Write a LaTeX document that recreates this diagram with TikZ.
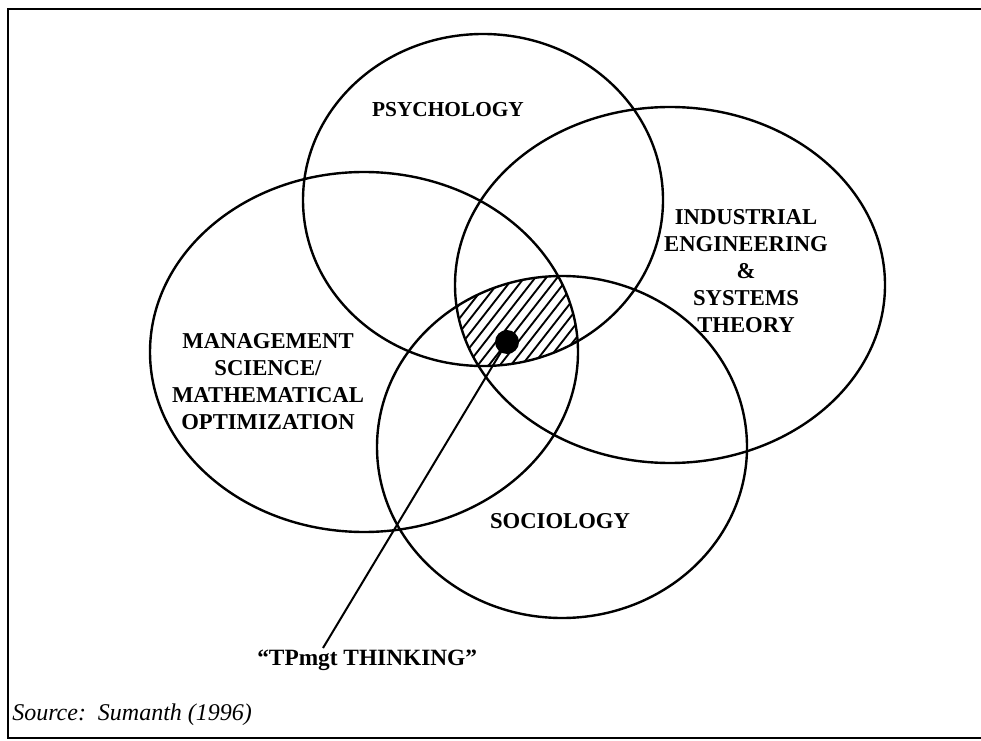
\documentclass[tikz,border=0pt]{standalone}
\usepackage{fontspec}
\setmainfont{Liberation Serif}
\begin{document}
\begin{tikzpicture}[x=0.75pt,y=-0.75pt,
  ring/.style={line width=1.8pt},
  lab/.style={font=\fontsize{17}{20.25}\selectfont\bfseries, align=center, inner sep=0pt},
  hatchline/.style={line width=1.4pt},
  frameline/.style={line width=2.2pt}]
\useasboundingbox (0,0) rectangle (981,741);
\draw[frameline] (981,9) -- (8,9) -- (8,738) -- (981,738);
% hatched core
\begin{scope}
  \clip (483,200) ellipse [x radius=180, y radius=166];
  \clip (670,285) ellipse [x radius=215, y radius=178];
  \clip (364,352) ellipse [x radius=214, y radius=180];
  \clip (562,447) ellipse [x radius=185, y radius=171];
  \foreach \k in {-20,...,20}{
    \draw[hatchline] ({507+\k*11-100},{342+128}) -- ({507+\k*11+100},{342-128});
  }
\end{scope}
% circles
\draw[ring] (483,200) ellipse [x radius=180, y radius=166];
\draw[ring] (670,285) ellipse [x radius=215, y radius=178];
\draw[ring] (364,352) ellipse [x radius=214, y radius=180];
\draw[ring] (562,447) ellipse [x radius=185, y radius=171];
% labels
\node[lab, font=\fontsize{16}{19}\selectfont\bfseries, anchor=base] (psy) at (448,117) {PSYCHOLOGY};
\node[lab] (ie) at (746,271) {INDUSTRIAL\\ENGINEERING\\\&\\SYSTEMS\\THEORY};
\node[lab] (ms) at (268,382) {MANAGEMENT\\SCIENCE/\\MATHEMATICAL\\OPTIMIZATION};
\node[lab, anchor=base] (soc) at (560,528) {SOCIOLOGY};
\node[fill=black, circle, minimum size=18pt, inner sep=0pt] (dot) at (507,342) {};
\node[lab, font=\fontsize{17.5}{20}\selectfont\bfseries, anchor=base west] (tp) at (257,665) {``TPmgt THINKING''};
\coordinate (tpend) at (323,648);
\draw[line width=1.5pt] (dot.center) -- (tpend);
\node[font=\fontsize{18}{20}\selectfont\itshape, anchor=base west, inner sep=0pt] (src) at (12,720) {Source:~~Sumanth (1996)};
\end{tikzpicture}
\end{document}
